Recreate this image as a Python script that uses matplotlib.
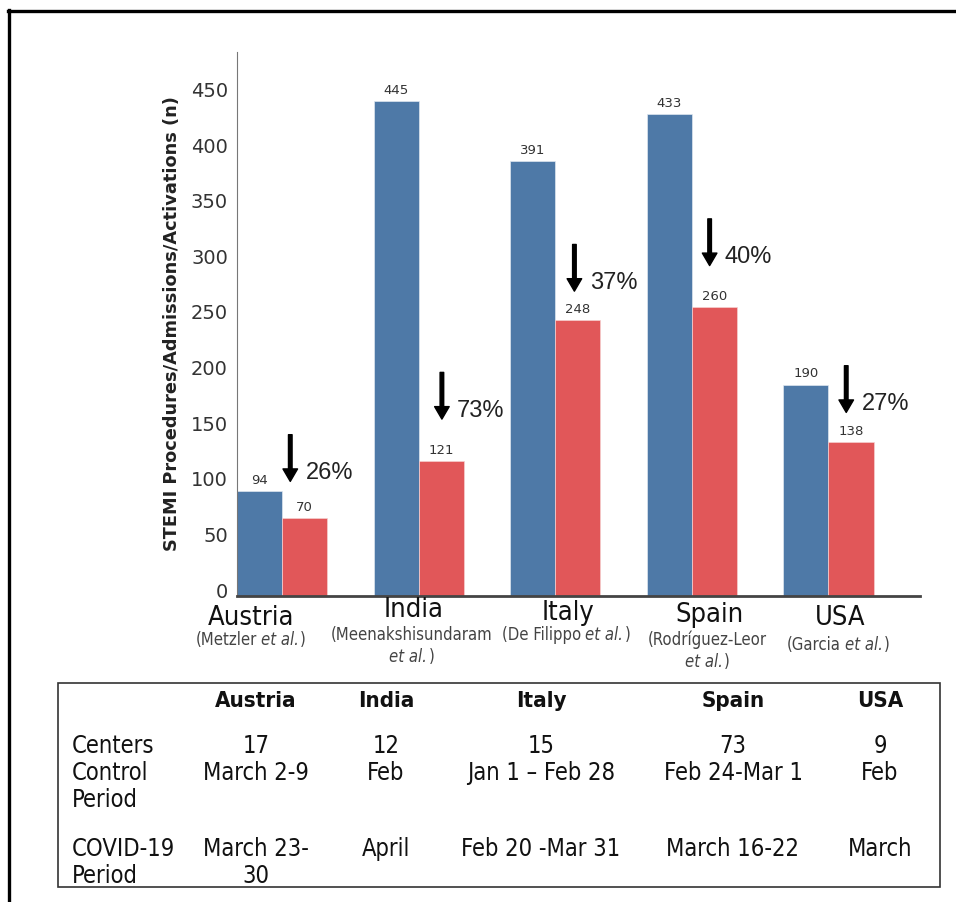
import matplotlib
matplotlib.use('Agg')
import matplotlib.pyplot as plt
from matplotlib import font_manager as fm
from matplotlib.lines import Line2D
from matplotlib.patches import Rectangle
import matplotlib.transforms as mtransforms

# ---------------- data ----------------
countries = ['Austria', 'India', 'Italy', 'Spain', 'USA']
study_authors = ['Metzler', 'Meenakshisundaram', 'De Filippo', 'Rodríguez-Leor', 'Garcia']
study_wrap = [False, True, False, True, False]
control_values = [94, 445, 391, 433, 190]
covid_values = [70, 121, 248, 260, 138]
y_ticks = [0, 50, 100, 150, 200, 250, 300, 350, 400, 450]
y_label = 'STEMI Procedures/Admissions/Activations (n)'

table_rows = ['Centers', 'Control\nPeriod', 'COVID-19\nPeriod']
centers = ['17', '12', '15', '73', '9']
control_period = ['March 2-9', 'Feb', 'Jan 1 – Feb 28', 'Feb 24-Mar 1', 'Feb']
covid_period = ['March 23-\n30', 'April', 'Feb 20 -Mar 31', 'March 16-22', 'March']

# ---------------- fonts ----------------
names = {f.name for f in fm.fontManager.ttflist}
if 'Liberation Sans Narrow' in names:
    NARROW = dict(family='Liberation Sans Narrow')
else:
    NARROW = dict(family='DejaVu Sans', stretch='condensed')

W, H = 956, 902
fig = plt.figure(figsize=(W / 100, H / 100), dpi=100)
fig.patch.set_facecolor('white')
renderer = fig.canvas.get_renderer()

def fx(px):
    return px / W

def fy(py):
    return 1 - py / H

ax = fig.add_axes([fx(237), fy(596), fx(920) - fx(237), (596 - 52) / H])

BLUE = '#4e79a7'
RED = '#e15759'
bw = 0.33
x = list(range(len(countries)))
xb = [i - bw / 2 for i in x]
xr = [i + bw / 2 for i in x]
ax.bar(xb, control_values, width=bw, color=BLUE, edgecolor='#dfe7f0', linewidth=0.5)
ax.bar(xr, covid_values, width=bw, color=RED, edgecolor='#f5d0d0', linewidth=0.5)

ax.set_xlim(-bw, 4.67)
ax.set_ylim(0, 489)
ax.set_yticks(y_ticks)
ax.set_yticklabels([str(t) for t in y_ticks], fontsize=14, color='#333333')
ax.tick_params(axis='y', length=0, pad=6.5)
lift = mtransforms.ScaledTranslation(0, 6 / 100, fig.dpi_scale_trans)
for lab in ax.get_yticklabels():
    lab.set_transform(lab.get_transform() + lift)
ax.set_xticks([])
for s in ['top', 'right']:
    ax.spines[s].set_visible(False)
ax.spines['left'].set_color('#777777')
ax.spines['left'].set_linewidth(0.8)
ax.spines['bottom'].set_color('#444444')
ax.spines['bottom'].set_linewidth(2.0)
ax.set_ylabel(y_label, fontsize=12.8, fontweight='bold', color='#222222', labelpad=7)

# value labels
for xi, v in zip(xb, control_values):
    ax.annotate(str(v), (xi, v), xytext=(0, 3), textcoords='offset points',
                ha='center', va='bottom', fontsize=9.5, color='#333333')
for xi, v in zip(xr, covid_values):
    ax.annotate(str(v), (xi, v), xytext=(0, 3), textcoords='offset points',
                ha='center', va='bottom', fontsize=9.5, color='#333333')

# arrows with percentage decrease
arrow_dx = [0.06, 0.17, 0.14, 0.13, 0.13]
arrow_gap = [33, 38, 26, 37, 27]
arrow_len = 42
for i, (c, v) in enumerate(zip(control_values, covid_values)):
    pct = round((c - v) / c * 100)
    ax_x = x[i] + arrow_dx[i]
    tip = v + arrow_gap[i]
    ax.annotate('', xy=(ax_x, tip), xytext=(ax_x, tip + arrow_len),
                arrowprops=dict(facecolor='black', edgecolor='black', width=2.6,
                                headwidth=10.5, headlength=9, shrink=0))
    ax.annotate(f'{pct}%', (ax_x, tip), xytext=(11, 6), textcoords='offset points',
                ha='left', va='center', fontsize=17, family='Liberation Sans', color='#222222')

# category labels below axis
trans = mtransforms.blended_transform_factory(ax.transData, fig.transFigure)


def mixed_line(xd, yf, segments, fontsize, color):
    """Draw a centred line made of (text, italic, gap_px_before) segments."""
    objs, widths = [], []
    for txt, ital, gap in segments:
        t = ax.text(xd, yf, txt, transform=trans, ha='left', va='center',
                    fontsize=fontsize, color=color,
                    style='italic' if ital else 'normal', **NARROW)
        widths.append(t.get_window_extent(renderer).width)
        objs.append(t)
    gaps = [g for _, _, g in segments]
    total = sum(widths) + sum(gaps)
    cur = -total / 2
    for t, w, g in zip(objs, widths, gaps):
        cur += g
        t.set_transform(trans + mtransforms.ScaledTranslation(cur / 100, 0, fig.dpi_scale_trans))
        cur += w


name_dx = [-0.227, -0.037, 0.095, 0.132, 0.088]
name_y = [618, 610, 613, 615, 618]
sub_dx = [-0.227, -0.05, 0.08, 0.11, 0.073]
sub_y = [640, 635, 635, 640, 645]
sub_fs = 12
for i in x:
    ax.text(i + name_dx[i], fy(name_y[i]), countries[i], transform=trans,
            ha='center', va='center', fontsize=19.5, color='#111111', **NARROW)
    auth = '(' + study_authors[i]
    if study_wrap[i]:
        mixed_line(i + sub_dx[i], fy(sub_y[i]), [(auth, False, 0)], sub_fs, '#444444')
        mixed_line(i + sub_dx[i], fy(sub_y[i] + 22), [('et al.', True, 0), (')', False, 1)],
                   sub_fs, '#444444')
    else:
        mixed_line(i + sub_dx[i], fy(sub_y[i]),
                   [(auth, False, 0), ('et al.', True, 4), (')', False, 1)], sub_fs, '#444444')

# ---------------- table ----------------
fig.add_artist(Rectangle((fx(58), fy(887)), fx(940) - fx(58), (887 - 683) / H,
                         transform=fig.transFigure, fill=False,
                         edgecolor='#333333', linewidth=1.2))
col_x = [256, 386, 541, 733, 880]
row_label_x = 72
header_y = 701
row_y = [746, 773, 849]
line_h = 27
tfs = 17
for cx, name in zip(col_x, countries):
    fig.text(fx(cx), fy(header_y), name, ha='center', va='center', fontsize=16,
             fontweight='bold', color='#111111', **NARROW)
for ry, lab in zip(row_y, table_rows):
    for k, part in enumerate(lab.split('\n')):
        fig.text(fx(row_label_x), fy(ry + k * line_h), part, ha='left', va='center',
                 fontsize=tfs, color='#111111', **NARROW)
for ry, vals in zip(row_y, [centers, control_period, covid_period]):
    for cx, val in zip(col_x, vals):
        for k, part in enumerate(val.split('\n')):
            fig.text(fx(cx), fy(ry + k * line_h), part, ha='center', va='center',
                     fontsize=tfs, color='#111111', **NARROW)

# outer border (top and left edges)
fig.add_artist(Line2D([fx(8), fx(956)], [fy(11), fy(11)], transform=fig.transFigure,
                      color='black', linewidth=2.4))
fig.add_artist(Line2D([fx(9), fx(9)], [fy(10), fy(902)], transform=fig.transFigure,
                      color='black', linewidth=2.4))

fig.savefig('out.png', dpi=100, facecolor='white')
